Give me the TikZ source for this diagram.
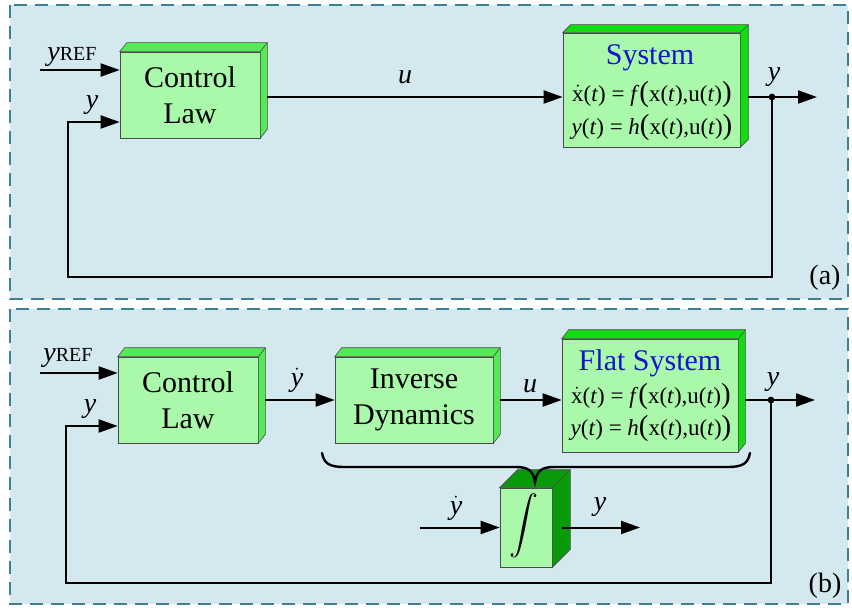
\documentclass[tikz,border=0pt]{standalone}
\usepackage{fontspec}
\setmainfont{Liberation Serif}
\usepackage{graphicx}
\usetikzlibrary{arrows.meta,calc}
\definecolor{panelbg}{HTML}{D3E9EF}
\definecolor{dashc}{HTML}{3F7F8E}
\definecolor{frontc}{HTML}{AAF8AA}
\definecolor{sidea}{HTML}{55EA55}
\definecolor{sideb}{HTML}{11DD11}
\definecolor{sidec}{HTML}{0A990A}
\definecolor{titleblue}{HTML}{1515CC}
\definecolor{edgec}{HTML}{4A4A4A}
\newcommand{\fsz}[1]{\fontsize{#1}{#1}\selectfont}
\newcommand{\bparen}[1]{{\fsz{29}#1}}
\newcommand{\eqlinex}{$\dot{\mbox{x}}$(\textit{t}) = \textit{f}\bparen{(}x(\textit{t}),u(\textit{t})\bparen{)}}
\newcommand{\eqliney}{\textit{y}(\textit{t}) = \textit{h}\bparen{(}x(\textit{t}),u(\textit{t})\bparen{)}}
\newcommand{\ydotlbl}{$\dot{\mbox{\itshape y}}$}
\newcommand{\yreflbl}{\textit{y}{\fsz{20}REF}}
\newcommand{\depthfaces}[4]{%
  \filldraw[fill=#4, draw=edgec, line width=0.6pt]
    (#1.north west) -- ++(#2,#3) -- ($(#1.north east)+(#2,#3)$)
    -- ($(#1.south east)+(#2,#3)$) -- (#1.south east) -- (#1.north east) -- cycle;
  \draw[edgec, line width=0.6pt] (#1.north east) -- ++(#2,#3);}
\begin{document}
\begin{tikzpicture}[x=1pt,y=-1pt,
  panel/.style={fill=panelbg, draw=dashc, line width=2pt, dash pattern=on 13pt off 8pt},
  blockbox/.style={draw=edgec, line width=0.6pt, fill=frontc, inner sep=0pt, align=center,
     font=\fontsize{30}{36}\selectfont},
  arr/.style={line width=2pt, -{Triangle[length=19pt,width=13pt]}},
  lbl/.style={inner sep=0pt, font=\fsz{28}},
  eqlbl/.style={inner sep=0pt, anchor=base, font=\fsz{23}},
  titlelbl/.style={inner sep=0pt, anchor=base, font=\fsz{30}, text=titleblue}]
\useasboundingbox (0,0) rectangle (852,610);
\draw[panel] (10,5) rectangle (848,299);
\draw[panel] (10,309) rectangle (848,604);

% ---------- panel (a)
\node[blockbox, minimum width=140pt, minimum height=86pt] (cla) at (190,95) {Control\\Law};
\depthfaces{cla}{7}{-9}{sidea}
\node[blockbox, minimum width=177pt, minimum height=114pt] (sys) at (651.5,90) {};
\depthfaces{sys}{8}{-8}{sideb}
\node[titlelbl] (systitle) at (650,65) {System};
\node[eqlbl] (syseq1) at (652,102) {\eqlinex};
\node[eqlbl] (syseq2) at (652,134) {\eqliney};

\coordinate (ina) at (40,70);
\draw[arr] (ina) -- (ina -| cla.west);
\node[lbl] (yrefa) at (72,57) {\yreflbl};
\coordinate (claout) at ($(cla.east)+(7,2)$);
\draw[arr] (claout) -- (claout -| sys.west);
\node[lbl] (ua) at (405,77) {\textit{u}};
\coordinate (sysout) at ($(sys.east)+(8,7)$);
\coordinate (dota) at (772,97);
\coordinate (outa) at (817,97);
\draw[arr] (sysout) -- (outa);
\fill (dota) circle (3.4pt);
\node[lbl] (youta) at (774,77) {\textit{y}};
\coordinate (fba) at (68,277);
\draw[arr] (dota) |- (fba) |- ($(cla.west)+(0,27)$);
\node[lbl] (yfba) at (92,105) {\textit{y}};
\node[lbl] (taga) at (825,278) {(a)};

% ---------- panel (b)
\node[blockbox, minimum width=140pt, minimum height=86pt] (clb) at (188,400) {Control\\Law};
\depthfaces{clb}{7}{-9}{sidea}
\node[blockbox, minimum width=158pt, minimum height=86pt] (inv) at (414,400) {Inverse\\Dynamics};
\depthfaces{inv}{7}{-9}{sidea}
\node[blockbox, minimum width=176pt, minimum height=113pt] (fsys) at (650,395.5) {};
\depthfaces{fsys}{7}{-9}{sideb}
\node[titlelbl] (fstitle) at (650,370) {Flat System};
\node[eqlbl] (fseq1) at (651,403) {\eqlinex};
\node[eqlbl] (fseq2) at (651,435) {\eqliney};

\coordinate (inb) at (40,373);
\draw[arr] (inb) -- (inb -| clb.west);
\node[lbl] (yrefb) at (68,358) {\yreflbl};
\coordinate (clbout) at ($(clb.east)+(7,0)$);
\draw[arr] (clbout) -- (inv.west);
\node[lbl] (ydb) at (297,380) {\ydotlbl};
\coordinate (invout) at ($(inv.east)+(7,0)$);
\draw[arr] (invout) -- (invout -| fsys.west);
\node[lbl] (ub) at (530,386) {\textit{u}};
\coordinate (fsout) at ($(fsys.east)+(7,4.5)$);
\coordinate (dotb) at (771,400);
\coordinate (outb) at (815,400);
\draw[arr] (fsout) -- (outb);
\fill (dotb) circle (3.4pt);
\node[lbl] (youtb) at (773,382) {\textit{y}};
\coordinate (fbb) at (66,583);
\draw[arr] (dotb) |- (fbb) |- ($(clb.west)+(0,26)$);
\node[lbl] (yfbb) at (90,409) {\textit{y}};
\node[lbl] (tagb) at (825,586) {(b)};

% integrator
\node[draw=edgec, line width=0.6pt, fill=frontc, inner sep=0pt,
      minimum width=52pt, minimum height=79pt] (intg) at (526,527.5) {};
\depthfaces{intg}{18}{-18}{sidec}
\node[inner sep=0pt] (intsym) at (524,526) {\scalebox{2.9}{\normalsize$\displaystyle\int$}};
\coordinate (iin) at (420,527.5);
\draw[arr] (iin) -- (intg.west);
\node[lbl] (ydi) at (456,508) {\ydotlbl};
\coordinate (iout) at ($(intg.east)+(10,0)$);
\coordinate (iend) at (640,527.5);
\draw[arr] (iout) -- (iend);
\node[lbl] (yi) at (600,507) {\textit{y}};

% brace
\draw[line width=2.4pt, line cap=round]
  (322,453) .. controls (324,464) and (330,467) .. (345,467) -- (515,467)
  .. controls (528,467) and (533,470) .. (535,482)
  .. controls (537,470) and (542,467) .. (555,467) -- (727,467)
  .. controls (742,467) and (748,464) .. (750,453);
\end{tikzpicture}
\end{document}
